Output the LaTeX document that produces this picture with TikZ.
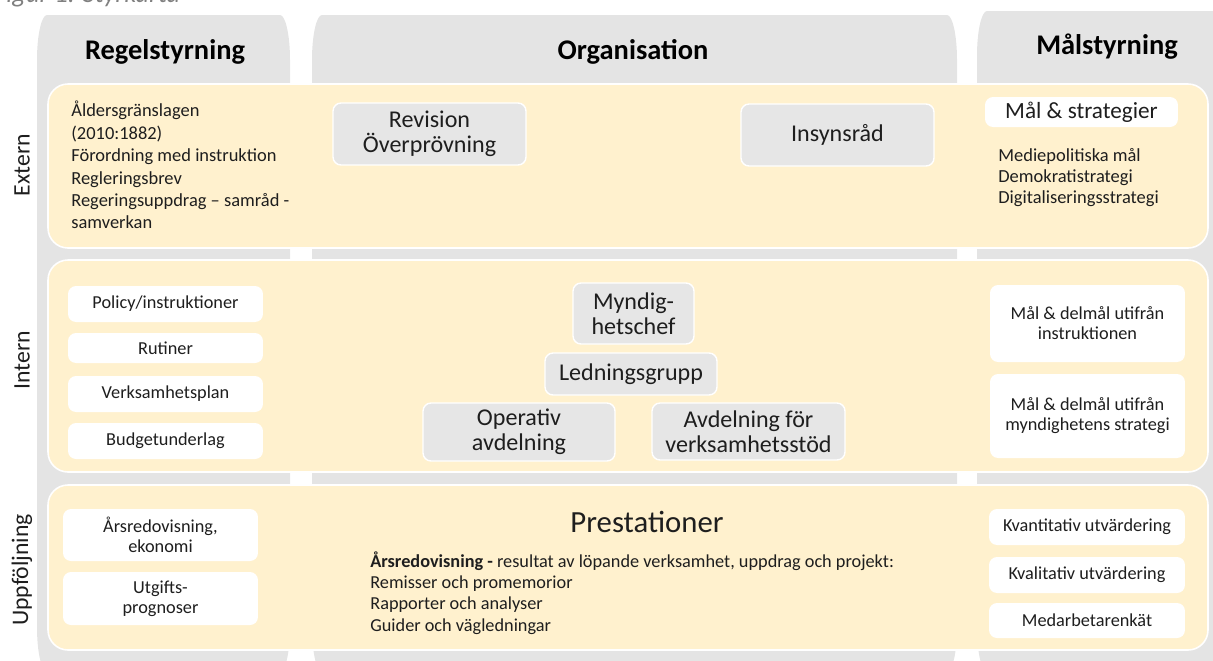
\documentclass[tikz,border=0pt]{standalone}
\usepackage{fontspec}
\setmainfont{Carlito}
\definecolor{colgrey}{RGB}{228,228,228}
\definecolor{bandyellow}{RGB}{255,241,206}
\definecolor{boxgrey}{RGB}{230,230,230}
\definecolor{txtdark}{RGB}{30,30,30}
\tikzset{
    band/.style={fill=bandyellow, draw=white, line width=0.9pt, rounded corners=0.4cm},
    greybox/.style={fill=boxgrey, draw=white, line width=0.8pt, rounded corners=0.16cm, align=center, inner sep=0, text=txtdark, font=\fontsize{13.7}{14.2}\selectfont},
    whitebox/.style={fill=white, rounded corners=0.16cm, align=center, inner sep=0, text=txtdark, font=\fontsize{10.4}{11.3}\selectfont},
    head/.style={font=\fontsize{16.2}{19}\selectfont\bfseries},
    rowlabel/.style={rotate=90, inner sep=0, font=\fontsize{13.5}{15}\selectfont, text=txtdark},
    listtext/.style={align=left, inner sep=0, anchor=north west, text=txtdark}
}
\begin{document}
\begin{tikzpicture}[x=0.02cm, y=-0.02cm]
        \useasboundingbox (0,0) rectangle (1213,660);
        % Caption (cut at the top)
        \node[anchor=base west, inner sep=0, text=gray, font=\fontsize{15}{16}\selectfont\itshape] (caption) at (-6,2) {Figur 1: Styrkarta};

        % Columns
        \foreach \xa/\xb/\ya in {37/290/15, 312/957/15, 977/1240/11} {
            \fill[colgrey] (\xa,\ya+45) arc[start angle=180, end angle=270, x radius=10, y radius=45]
                -- (\xb-10,\ya) arc[start angle=270, end angle=360, x radius=10, y radius=45]
                -- (\xb,627) arc[start angle=0, end angle=90, x radius=10, y radius=45]
                -- (\xa+10,672) arc[start angle=90, end angle=180, x radius=10, y radius=45] -- cycle;
        }
        \node[head] (head1) at (165,52) {Regelstyrning};
        \node[head] (head2) at (633,52) {Organisation};
        \node[head] (head3) at (1107,47) {Målstyrning};

        % Bands
        \draw[band] (48,84) rectangle (1208,248);
        \draw[band] (48,260) rectangle (1208,472);
        \draw[band] (48,485) rectangle (1208,650);
        \node[rowlabel] (row1) at (22,165) {Extern};
        \node[rowlabel] (row2) at (22,360) {Intern};
        \node[rowlabel] (row3) at (22,570) {Uppföljning};

        % Extern
        \node[listtext, font=\fontsize{10.5}{12.75}\selectfont] (ext1) at (71,101) {
            Åldersgränslagen\\
            (2010:1882)\\
            Förordning med instruktion\\
            Regleringsbrev\\
            Regeringsuppdrag – samråd -\\
            samverkan
        };
        \node[greybox, minimum width=3.86cm, minimum height=1.24cm] (ext2) at (429.5,134) {Revision\\Överprövning};
        \node[greybox, minimum width=3.86cm, minimum height=1.24cm] (ext3) at (837.5,135) {Insynsråd};
        \node[whitebox, minimum width=3.86cm, minimum height=0.6cm, font=\fontsize{13.2}{14}\selectfont] (ext4) at (1081.5,112) {Mål \& strategier};
        \node[listtext, font=\fontsize{10.5}{11.9}\selectfont] (ext5) at (998,148.5) {
            Mediepolitiska mål\\
            Demokratistrategi\\
            Digitaliseringsstrategi
        };

        % Intern
        \node[whitebox, minimum width=3.9cm, minimum height=0.72cm] (int1) at (165.5,304) {Policy/instruktioner};
        \node[whitebox, minimum width=3.9cm, minimum height=0.6cm] (int2) at (165.5,348) {Rutiner};
        \node[whitebox, minimum width=3.9cm, minimum height=0.72cm] (int3) at (165.5,394) {Verksamhetsplan};
        \node[whitebox, minimum width=3.9cm, minimum height=0.72cm] (int4) at (165.5,441) {Budgetunderlag};
        \node[greybox, minimum width=2.42cm, minimum height=1.22cm] (int5) at (633.5,313.5) {Myndig-\\hetschef};
        \node[greybox, minimum width=3.44cm, minimum height=0.84cm] (int6) at (631,374) {Ledningsgrupp};
        \node[greybox, minimum width=3.84cm, minimum height=1.16cm] (int7) at (519,432) {Operativ\\avdelning};
        \node[greybox, minimum width=3.86cm, minimum height=1.14cm] (int8) at (748.5,431.5) {Avdelning för\\verksamhetsstöd};
        \node[whitebox, minimum width=3.9cm, minimum height=1.54cm] (int9) at (1087.5,323.5) {Mål \& delmål utifrån\\instruktionen};
        \node[whitebox, minimum width=3.9cm, minimum height=1.68cm] (int10) at (1087.5,416) {Mål \& delmål utifrån\\myndighetens strategi};

        % Uppfoljning
        \node[whitebox, minimum width=3.9cm, minimum height=1.04cm] (upp1) at (160.5,535) {Årsredovisning,\\ekonomi};
        \node[whitebox, minimum width=3.9cm, minimum height=1.06cm] (upp2) at (160.5,598.5) {Utgifts-\\prognoser};
        \node[inner sep=0, text=txtdark, font=\fontsize{17.5}{19}\selectfont] (upp3) at (647,522) {Prestationer};
        \node[listtext, font=\fontsize{10.4}{12.2}\selectfont] (upp4) at (370,551) {
            \textbf{Årsredovisning -} resultat av löpande verksamhet, uppdrag och projekt:\\
            Remisser och promemorior\\
            Rapporter och analyser\\
            Guider och vägledningar
        };
        \node[whitebox, minimum width=3.92cm, minimum height=0.72cm] (upp5) at (1087,527) {Kvantitativ utvärdering};
        \node[whitebox, minimum width=3.92cm, minimum height=0.72cm] (upp6) at (1087,575) {Kvalitativ utvärdering};
        \node[whitebox, minimum width=3.92cm, minimum height=0.7cm] (upp7) at (1087,620.5) {Medarbetarenkät};

    \end{tikzpicture}
\end{document}
